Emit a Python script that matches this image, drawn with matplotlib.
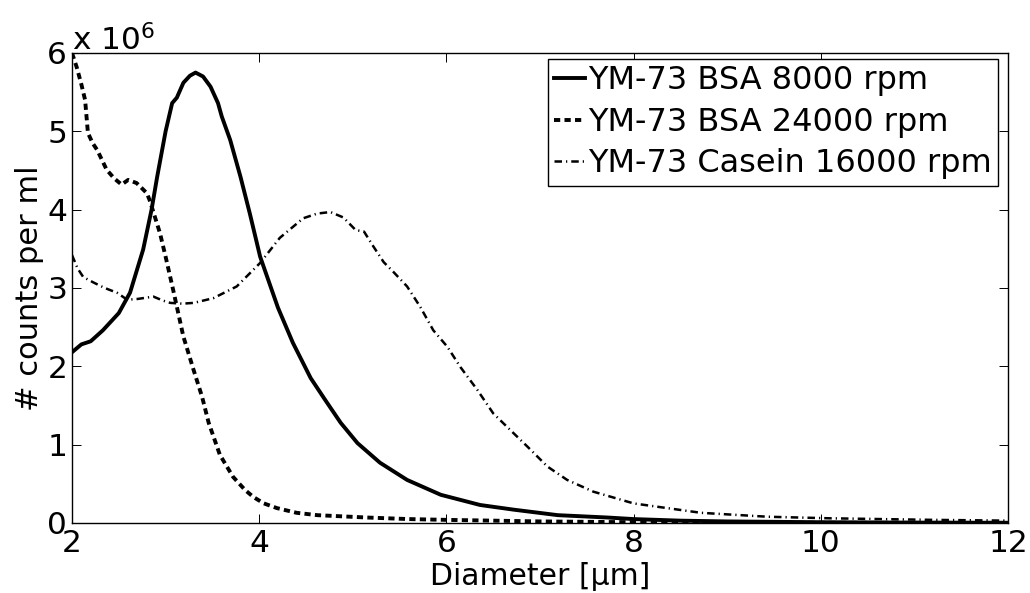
import matplotlib
matplotlib.use("Agg")
import matplotlib.pyplot as plt

plt.rcParams['font.family'] = ['DejaVu Sans']

# Series: YM-73 BSA 8000 rpm (solid)
bsa8_x = [2.0, 2.1, 2.2, 2.33, 2.5, 2.62, 2.76, 2.85, 2.91, 3.0, 3.07, 3.12, 3.19, 3.26, 3.32, 3.40,
          3.48, 3.56, 3.60, 3.69, 3.80, 3.90, 4.01, 4.2, 4.36, 4.55, 4.7, 4.87, 5.05, 5.29, 5.58,
          5.94, 6.36, 6.72, 7.19, 7.72, 8.0, 8.5, 9.0, 10.0, 11.0, 12.0]
bsa8_y = [2.18, 2.28, 2.32, 2.46, 2.68, 2.94, 3.49, 4.0, 4.42, 5.0, 5.36, 5.43, 5.62, 5.71, 5.75, 5.70,
          5.57, 5.36, 5.19, 4.89, 4.42, 3.95, 3.40, 2.75, 2.30, 1.85, 1.58, 1.28, 1.02, 0.77, 0.55,
          0.36, 0.23, 0.17, 0.10, 0.07, 0.05, 0.03, 0.02, 0.01, 0.005, 0.003]

# Series: YM-73 BSA 24000 rpm (dotted)
bsa24_x = [2.0, 2.05, 2.1, 2.14, 2.17, 2.22, 2.27, 2.37, 2.45, 2.53, 2.6, 2.69, 2.8, 2.83, 2.94,
           3.0, 3.08, 3.19, 3.3, 3.39, 3.46, 3.58, 3.72, 3.85, 3.94, 4.05, 4.19, 4.4, 4.62, 5.15,
           5.6, 6.0, 6.5, 7.0, 8.0, 9.0, 10.0, 12.0]
bsa24_y = [6.0, 5.82, 5.6, 5.4, 4.98, 4.85, 4.76, 4.51, 4.4, 4.32, 4.38, 4.34, 4.21, 4.12, 3.70,
           3.4, 2.98, 2.38, 1.95, 1.61, 1.28, 0.87, 0.59, 0.42, 0.33, 0.25, 0.19, 0.13, 0.10, 0.07,
           0.05, 0.04, 0.03, 0.02, 0.01, 0.005, 0.003, 0.001]

# Series: YM-73 Casein 16000 rpm (dash-dot)
cas_x = [2.0, 2.06, 2.12, 2.23, 2.35, 2.48, 2.59, 2.7, 2.87, 2.97, 3.05, 3.18, 3.30, 3.51, 3.76,
         4.01, 4.22, 4.47, 4.62, 4.76, 4.90, 5.03, 5.12, 5.22, 5.33, 5.43, 5.58, 5.72, 5.86, 6.01,
         6.15, 6.33, 6.5, 6.68, 6.87, 7.08, 7.29, 7.57, 8.0, 8.72, 9.43, 10.1, 11.2, 12.0]
cas_y = [3.42, 3.25, 3.14, 3.07, 3.0, 2.94, 2.85, 2.86, 2.89, 2.84, 2.81, 2.80, 2.81, 2.87, 3.02,
         3.32, 3.64, 3.89, 3.95, 3.97, 3.90, 3.74, 3.72, 3.53, 3.33, 3.21, 3.02, 2.76, 2.46, 2.25,
         1.99, 1.70, 1.40, 1.19, 0.97, 0.72, 0.55, 0.40, 0.25, 0.13, 0.08, 0.06, 0.04, 0.03]

labels = ['YM-73 BSA 8000 rpm', 'YM-73 BSA 24000 rpm', 'YM-73 Casein 16000 rpm']
x_ticks = [2, 4, 6, 8, 10, 12]
y_ticks = [0, 1, 2, 3, 4, 5, 6]
scale = 1e6

W, H = 1030, 593
fig = plt.figure(figsize=(W / 100, H / 100), dpi=100)
ax = fig.add_axes([72 / W, 1 - 523 / H, (1008 - 72) / W, (523 - 53) / H])

ax.plot(bsa8_x, [v * scale for v in bsa8_y], color='black', lw=2.8, ls='-', label=labels[0])
ax.plot(bsa24_x, [v * scale for v in bsa24_y], color='black', lw=2.8, dashes=(1.6, 1.1),
        label=labels[1])
ax.plot(cas_x, [v * scale for v in cas_y], color='black', lw=1.8, dashes=(3.0, 1.6, 0.5, 1.6),
        label=labels[2])

ax.set_xlim(2, 12)
ax.set_ylim(0, 6 * scale)
ax.set_xticks(x_ticks)
ax.set_xticklabels([str(t) for t in x_ticks])
ax.set_yticks([t * scale for t in y_ticks])
ax.set_yticklabels([str(t) for t in y_ticks])
ax.tick_params(direction='in', top=True, right=True, length=6.5, width=0.7,
               labelsize=22.5, pad=3.5)
ax.tick_params(axis='x', pad=4)
for s in ax.spines.values():
    s.set_linewidth(1.0)

ax.text(0.0, 1.0064, 'x 10$^{6}$', transform=ax.transAxes, fontsize=22.5,
        ha='left', va='baseline')

ax.set_xlabel('Diameter [\u03bcm]', fontsize=21.5, labelpad=3.5)
ax.set_ylabel('# counts per ml', fontsize=22, labelpad=2)

leg = ax.legend(loc='upper right', bbox_to_anchor=(998 / W, 1 - 59 / H),
                bbox_transform=fig.transFigure, borderaxespad=0,
                fontsize=23, frameon=True, fancybox=False,
                edgecolor='black', framealpha=1, handlelength=0.95, handletextpad=0.1,
                borderpad=0.2, labelspacing=0.33)
leg.get_frame().set_linewidth(1.0)

fig.savefig('out.png', dpi=100)
